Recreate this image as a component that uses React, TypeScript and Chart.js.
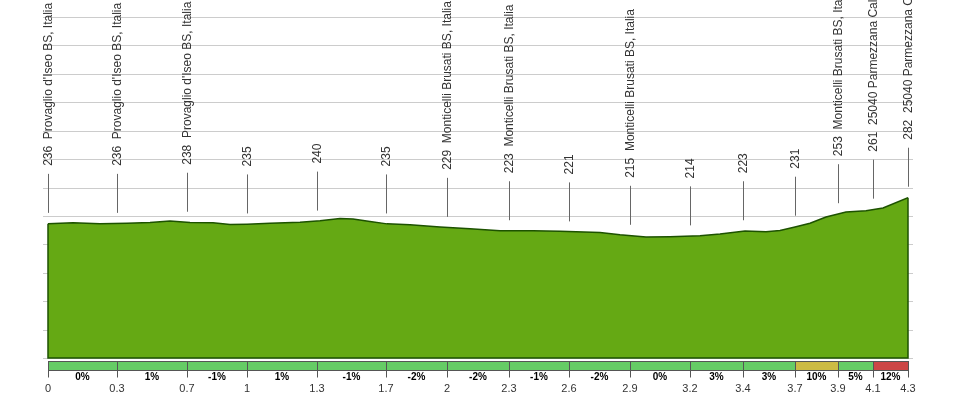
import React, { useEffect, useRef } from "react";
import { Chart, registerables } from "chart.js";

Chart.register(...registerables);

// Elevation profile (km, metres)
const profileKm = [0, 0.125, 0.26, 0.395, 0.51, 0.61, 0.71, 0.825, 0.91, 0.995, 1.11, 1.26, 1.36, 1.46, 1.525, 1.61, 1.695, 1.81, 1.96, 2.11, 2.26, 2.425, 2.56, 2.76, 2.86, 2.99, 3.11, 3.26, 3.36, 3.485, 3.59, 3.66, 3.735, 3.81, 3.89, 3.99, 4.09, 4.175, 4.3];
const profileElev = [236, 238, 236, 237, 238.5, 241, 238.5, 238, 235, 235.5, 237, 239, 241.5, 245.5, 244.5, 240, 236, 234.5, 230.5, 227.5, 224, 224, 223, 221, 217, 213, 213.5, 215, 218, 223.5, 222, 224.5, 230.5, 237, 248, 257, 259, 264, 282];

// Waypoint markers
const markerKm = [0, 0.345, 0.695, 0.995, 1.345, 1.69, 1.995, 2.305, 2.605, 2.91, 3.21, 3.475, 3.735, 3.95, 4.125, 4.3];
const markerKmLabels = ["0", "0.3", "0.7", "1", "1.3", "1.7", "2", "2.3", "2.6", "2.9", "3.2", "3.4", "3.7", "3.9", "4.1", "4.3"];
const markerElev = [236, 236, 238, 235, 240, 235, 229, 223, 221, 215, 214, 223, 231, 253, 261, 282];
const markerNames = [
  "Provaglio d'Iseo BS, Italia",
  "Provaglio d'Iseo BS, Italia",
  "Provaglio d'Iseo BS, Italia",
  "",
  "",
  "",
  "Monticelli Brusati BS, Italia",
  "Monticelli Brusati BS, Italia",
  "",
  "Monticelli Brusati BS, Italia",
  "",
  "",
  "",
  "Monticelli Brusati BS, Italia",
  "25040 Parmezzana Calzoni BS, Italia",
  "25040 Parmezzana Calzoni BS, Italia",
];

// Gradient (%) between consecutive markers
const gradePct = [0, 1, -1, 1, -1, -2, -2, -1, -2, 0, 3, 3, 10, 5, 12];

// Horizontal grid values (m)
const gridValues = [0, 50, 100, 150, 200, 250, 300, 350, 400, 450, 500, 550, 600];

const FONT = '"Liberation Sans", Arial, sans-serif';

function gradeColor(p: number): string {
  if (p >= 11) return "#cc4646";
  if (p >= 6) return "#ccbb44";
  return "#66cc66";
}

const overlay = {
  id: "overlay",
  beforeDatasetsDraw(chart: any) {
    const { ctx, chartArea: a, scales } = chart;
    const y = scales.y;
    ctx.save();
    ctx.strokeStyle = "#cccccc";
    ctx.lineWidth = 1;
    for (const v of gridValues) {
      const py = Math.round(y.getPixelForValue(v)) + 0.5;
      ctx.beginPath();
      ctx.moveTo(a.left - 5, py);
      ctx.lineTo(a.right + 5, py);
      ctx.stroke();
    }
    ctx.restore();
  },
  afterDatasetsDraw(chart: any) {
    const { ctx, chartArea: a, scales } = chart;
    const x = scales.x;
    const y = scales.y;
    ctx.save();

    // close the profile outline (left, bottom, right)
    ctx.strokeStyle = "#1d5200";
    ctx.lineWidth = 1.5;
    const xl = x.getPixelForValue(profileKm[0]);
    const xr = x.getPixelForValue(profileKm[profileKm.length - 1]);
    const yb = y.getPixelForValue(0);
    ctx.beginPath();
    ctx.moveTo(xl, y.getPixelForValue(profileElev[0]));
    ctx.lineTo(xl, yb);
    ctx.lineTo(xr, yb);
    ctx.lineTo(xr, y.getPixelForValue(profileElev[profileElev.length - 1]));
    ctx.stroke();

    // waypoint markers
    ctx.lineWidth = 1;
    ctx.strokeStyle = "#666666";
    ctx.fillStyle = "#333333";
    ctx.font = "12px " + FONT;
    ctx.textAlign = "left";
    ctx.textBaseline = "middle";
    markerKm.forEach((km, i) => {
      const px = Math.round(x.getPixelForValue(km)) + 0.5;
      const py = y.getPixelForValue(markerElev[i]);
      ctx.beginPath();
      ctx.moveTo(px, py - 50);
      ctx.lineTo(px, py - 11);
      ctx.stroke();
      const label = markerNames[i] ? `${markerElev[i]}  ${markerNames[i]}` : `${markerElev[i]}`;
      ctx.save();
      ctx.translate(px, py - 58);
      ctx.rotate(-Math.PI / 2);
      ctx.fillText(label, 0, 0);
      ctx.restore();
    });

    // gradient strip
    const top = a.bottom + 3.5;
    const h = 9;
    for (let i = 0; i < gradePct.length; i++) {
      const x0 = x.getPixelForValue(markerKm[i]);
      const x1 = x.getPixelForValue(markerKm[i + 1]);
      ctx.fillStyle = gradeColor(gradePct[i]);
      ctx.fillRect(x0, top, x1 - x0, h);
    }
    ctx.strokeStyle = "#555555";
    ctx.lineWidth = 1;
    ctx.strokeRect(Math.round(xl) + 0.5, top, Math.round(xr) - Math.round(xl), h);
    markerKm.forEach((km) => {
      const px = Math.round(x.getPixelForValue(km)) + 0.5;
      ctx.beginPath();
      ctx.moveTo(px, top);
      ctx.lineTo(px, top + 16);
      ctx.stroke();
    });

    ctx.fillStyle = "#000000";
    ctx.font = "bold 10px " + FONT;
    ctx.textAlign = "center";
    ctx.textBaseline = "middle";
    for (let i = 0; i < gradePct.length; i++) {
      const cx = (x.getPixelForValue(markerKm[i]) + x.getPixelForValue(markerKm[i + 1])) / 2;
      ctx.fillText(`${gradePct[i]}%`, cx, a.bottom + 19.5);
    }

    ctx.fillStyle = "#333333";
    ctx.font = "11px " + FONT;
    markerKm.forEach((km, i) => {
      ctx.fillText(markerKmLabels[i], x.getPixelForValue(km), a.bottom + 30.5);
    });

    ctx.restore();
  },
};

export default function App() {
  const ref = useRef<HTMLCanvasElement | null>(null);
  useEffect(() => {
    if (!ref.current) return;
    const chart = new Chart(ref.current, {
      type: "line",
      data: {
        datasets: [
          {
            data: profileKm.map((k, i) => ({ x: k, y: profileElev[i] })),
            borderColor: "#1d5200",
            borderWidth: 1.5,
            backgroundColor: "#65a914",
            fill: "origin",
            pointRadius: 0,
            tension: 0,
          },
        ],
      },
      options: {
        animation: false,
        responsive: false,
        events: [],
        layout: { padding: { left: 48, right: 48, top: 17, bottom: 37 } },
        plugins: { legend: { display: false }, tooltip: { enabled: false } },
        scales: {
          x: { type: "linear", min: 0, max: 4.3, display: false },
          y: { type: "linear", min: 0, max: 600, display: false },
        },
      },
      plugins: [overlay],
    });
    return () => chart.destroy();
  }, []);
  return (
    <div style={{ position: "fixed", left: 0, top: 0, width: 956, height: 395, background: "#fff" }}>
      <canvas ref={ref} width={956} height={395} style={{ display: "block" }} />
    </div>
  );
}
